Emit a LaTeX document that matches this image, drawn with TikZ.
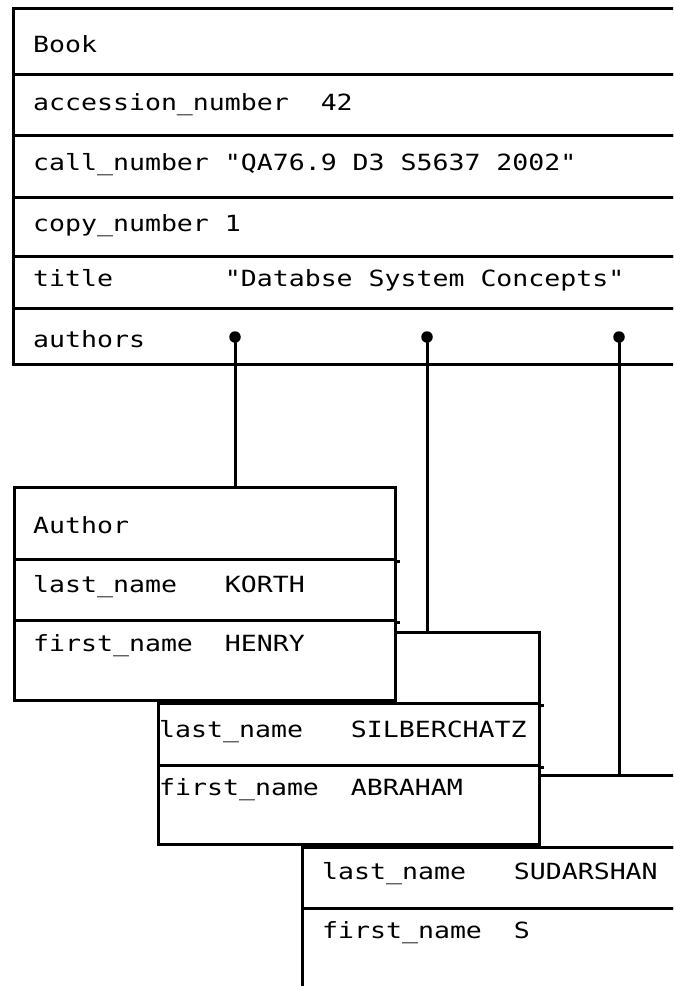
\documentclass[tikz,border=0pt]{standalone}
\usepackage{fontspec}
\newfontfamily\monofont[FakeStretch=1.19]{DejaVu Sans Mono}
\tikzset{
  cellbox/.style={draw, fill=white, line width=3pt, inner sep=0pt, anchor=north west},
  lbl/.style={anchor=base west, inner sep=0pt, font=\monofont\fontsize{22.3pt}{25pt}\selectfont},
  stem/.style={line width=3pt},
  pin/.style={circle, fill=black, inner sep=0pt, minimum size=11.5pt},
}
\newcommand{\mycell}[5]{\node[cellbox, minimum width=#4 pt, minimum height=#5 pt] (#1) at (#2,#3) {};}
\begin{document}
\begin{tikzpicture}[x=1pt, y=-1pt]
\useasboundingbox (0,0) rectangle (673,986);
\clip (0,0) rectangle (673,986);
% Book
\mycell{b1}{12}{7}{700}{66}
\mycell{b2}{12}{73}{700}{61}
\mycell{b3}{12}{134}{700}{62}
\mycell{b4}{12}{196}{700}{59}
\mycell{b5}{12}{255}{700}{52}
\mycell{b6}{12}{307}{700}{56}
\node[lbl] (tb1) at (33,52.7) {Book};
\node[lbl] (tb2) at (33,110.7) {accession\_number\ \ 42};
\node[lbl] (tb3) at (33,170) {call\_number "QA76.9 D3 S5637 2002"};
\node[lbl] (tb4) at (33,231) {copy\_number 1};
\node[lbl] (tb5) at (33,286.7) {title\ \ \ \ \ \ \ "Databse System Concepts"};
\node[lbl] (tb6) at (33,347) {authors};
% Author 3
\mycell{c1}{300.5}{774}{400}{72}
\mycell{c2}{300.5}{846}{400}{61}
\mycell{c3}{300.5}{907}{400}{85}
\node[lbl] (tc2) at (322,879) {last\_name\ \ \ SUDARSHAN};
\node[lbl] (tc3) at (322,938) {first\_name\ \ S};
% Author 2
\mycell{s1}{157}{631}{381}{71}
\mycell{s2}{157}{702}{381}{62}
\mycell{s3}{157}{764}{381}{79}
\draw[stem] (s1.south east) -- ++(3,0);
\draw[stem] (s2.south east) -- ++(3,0);
\node[lbl] (ts2) at (159,737) {last\_name\ \ \ SILBERCHATZ};
\node[lbl] (ts3) at (159,795) {first\_name\ \ ABRAHAM};
% Author 1
\mycell{k1}{13}{486}{381}{72}
\mycell{k2}{13}{558}{381}{61}
\mycell{k3}{13}{619}{381}{80}
\draw[stem] (k1.south east) -- ++(3,0);
\draw[stem] (k2.south east) -- ++(3,0);
\node[lbl] (tk1) at (33,533) {Author};
\node[lbl] (tk2) at (33,592) {last\_name\ \ \ KORTH};
\node[lbl] (tk3) at (33,651) {first\_name\ \ HENRY};
% pointers
\node[pin] (p1) at (235,337) {};
\node[pin] (p2) at (427,337) {};
\node[pin] (p3) at (619,337) {};
\draw[stem] (p1.center) -- (p1 |- k1.north);
\draw[stem] (p2.center) -- (p2 |- s1.north);
\draw[stem] (p3.center) -- (p3 |- c1.north);
\end{tikzpicture}
\end{document}
